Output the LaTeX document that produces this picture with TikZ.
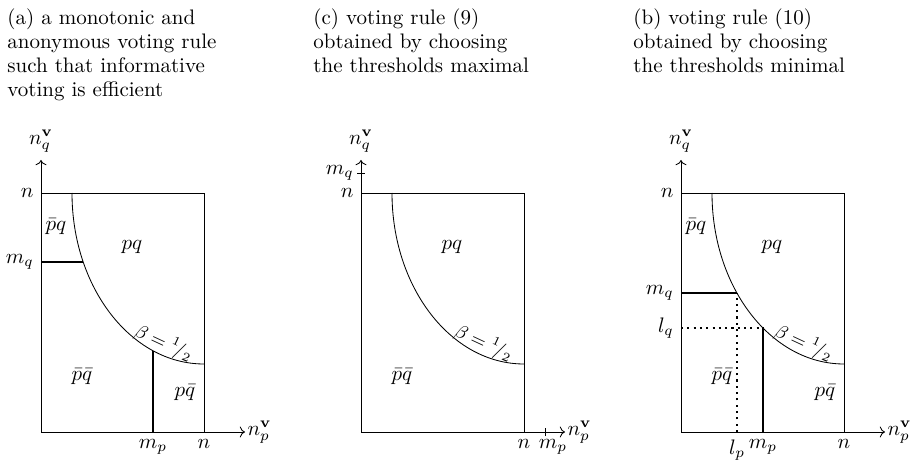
\documentclass[tikz,border=0pt]{standalone}
\usetikzlibrary{arrows.meta,calc}
\tikzset{vrpanel/.style={
  x=0.476pt, y=0.476pt,
  axis/.style={->, line width=0.4pt},
  frame/.style={line width=0.4pt},
  bound/.style={line width=0.4pt},
  thr/.style={line width=1pt},
  aux/.style={dotted, line width=1pt},
  tickmark/.style={line width=0.4pt},
  axlab/.style={inner sep=1pt},
  blab/.style={font=\small, rotate=-25, inner sep=0pt},
  title/.style={anchor=north west, align=left, inner sep=0pt, font=\fontsize{10}{11.5}\selectfont},
}}

\begin{document}
\begin{tikzpicture}[vrpanel]
\useasboundingbox (0,0) rectangle (910,462);

% titles
\node[title] (ta) at (7,454) {(a) a monotonic and\\ anonymous voting rule\\ such that informative\\ voting is efficient};
\node[title] (tc) at (313,454) {(c) voting rule (9)\\ obtained by choosing\\ the thresholds maximal};
\node[title] (tb) at (633,454) {(b) voting rule (10)\\ obtained by choosing\\ the thresholds minimal};

% =====================================================================
% (a) monotonic and anonymous rule
% =====================================================================
\begin{scope}[shift={(41,30)}]
  \coordinate (oa) at (0,0);
  \coordinate (xa) at (204,0);
  \coordinate (ya) at (0,272);
  \coordinate (nya) at (0,239);
  \coordinate (nxa) at (163,0);
  \coordinate (ca) at (163,239);
  \draw[axis] (oa) -- (xa) node[right, axlab] (lxa) {$n_p^{\mathbf v}$};
  \draw[axis] (oa) -- (ya) node[above] (lya) {$n_q^{\mathbf v}$};
  \draw[frame] (nya) -- (ca) -- (nxa);
  \draw[bound] (ca) ++(-132,0) arc[start angle=180, end angle=270, x radius=132, y radius=171];
  \path (ca) ++(203.8:132 and 171) coordinate (qa);
  \path (ca) ++(247.3:132 and 171) coordinate (pa);
  \draw[thr] (oa |- qa) -- (qa);
  \draw[thr] (oa -| pa) -- (pa);
  \node[left] (nla) at (nya) {$n$};
  \node[below] (nba) at (nxa) {$n$};
  \node[left] (mqa) at (oa |- qa) {$m_q$};
  \node[below] (mpa) at (oa -| pa) {$m_p$};
  \node (npqa) at (15,205) {$\bar p q$};
  \node (pqa) at (91,185) {$pq$};
  \node (nnqa) at (41,55) {$\bar p\bar q$};
  \node (pnqa) at (144,39) {$p\bar q$};
  \node[blab] (ba) at (123,89) {$\beta = {}^{1}\!/{}_{2}$};
\end{scope}

% =====================================================================
% (c) thresholds maximal
% =====================================================================
\begin{scope}[shift={(361,30)}]
  \coordinate (oc) at (0,0);
  \coordinate (xc) at (204,0);
  \coordinate (yc) at (0,272);
  \coordinate (nyc) at (0,239);
  \coordinate (nxc) at (163,0);
  \coordinate (cc) at (163,239);
  \coordinate (qc) at (0,259);
  \coordinate (pc) at (184,0);
  \draw[axis] (oc) -- (xc) node[right, axlab] (lxc) {$n_p^{\mathbf v}$};
  \draw[axis] (oc) -- (yc) node[above] (lyc) {$n_q^{\mathbf v}$};
  \draw[frame] (nyc) -- (cc) -- (nxc);
  \draw[bound] (cc) ++(-132,0) arc[start angle=180, end angle=270, x radius=132, y radius=171];
  \draw[tickmark] (qc) ++(-4,0) -- ++(8,0);
  \draw[tickmark] (pc) ++(0,-4) -- ++(0,8);
  \node[left] (nlc) at (nyc) {$n$};
  \node[below] (nbc) at (nxc) {$n$};
  \node[left] (mqc) at (qc) {$m_q$};
  \node[below, xshift=8*0.476pt] (mpc) at (pc) {$m_p$};
  \node (pqc) at (91,185) {$pq$};
  \node (nnqc) at (41,55) {$\bar p\bar q$};
  \node[blab] (bc) at (123,89) {$\beta = {}^{1}\!/{}_{2}$};
\end{scope}

% =====================================================================
% (b) thresholds minimal
% =====================================================================
\begin{scope}[shift={(681,30)}]
  \coordinate (ob) at (0,0);
  \coordinate (xb) at (204,0);
  \coordinate (yb) at (0,272);
  \coordinate (nyb) at (0,239);
  \coordinate (nxb) at (163,0);
  \coordinate (cb) at (163,239);
  \draw[axis] (ob) -- (xb) node[right, axlab] (lxb) {$n_p^{\mathbf v}$};
  \draw[axis] (ob) -- (yb) node[above] (lyb) {$n_q^{\mathbf v}$};
  \draw[frame] (nyb) -- (cb) -- (nxb);
  \draw[bound] (cb) ++(-132,0) arc[start angle=180, end angle=270, x radius=132, y radius=171];
  \path (cb) ++(215.85:132 and 171) coordinate (qb);
  \path (cb) ++(232.15:132 and 171) coordinate (pb);
  \draw[aux] (ob -| qb) -- (qb);
  \draw[aux] (ob |- pb) -- (pb);
  \draw[thr] (ob |- qb) -- (qb);
  \draw[thr] (ob -| pb) -- (pb);
  \node[left] (nlb) at (nyb) {$n$};
  \node[below] (nbb) at (nxb) {$n$};
  \node[left] (mqb) at (ob |- qb) {$m_q$};
  \node[left] (lqb) at (ob |- pb) {$l_q$};
  \node[below] (lpb) at (ob -| qb) {$l_p$};
  \node[below] (mpb) at (ob -| pb) {$m_p$};
  \node (npqb) at (15,205) {$\bar p q$};
  \node (pqb) at (91,185) {$pq$};
  \node (nnqb) at (41,55) {$\bar p\bar q$};
  \node (pnqb) at (144,39) {$p\bar q$};
  \node[blab] (bb) at (123,89) {$\beta = {}^{1}\!/{}_{2}$};
\end{scope}

\end{tikzpicture}
\end{document}
